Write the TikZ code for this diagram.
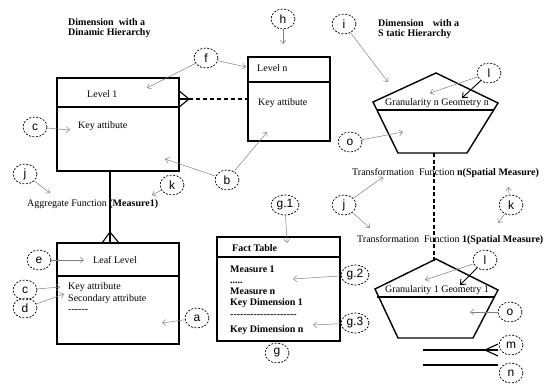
\documentclass[tikz,border=0pt]{standalone}
\usepackage{fontspec}
\setmainfont{Liberation Serif}
\newfontfamily\lblfont{Liberation Sans}
\usetikzlibrary{arrows.meta,shapes.geometric}
\begin{document}
\begin{tikzpicture}[x=1pt,y=-1pt,
  lbl/.style={draw, ellipse, dash pattern=on 2pt off 1.5pt, line width=0.7pt, minimum width=24pt, minimum height=20pt, inner sep=0pt, font=\lblfont\fontsize{12}{12}\selectfont},
  wlbl/.style={lbl, minimum width=28pt},
  boxn/.style={draw, line width=1.4pt, rectangle, inner sep=0pt},
  garrow/.style={draw=black!50, line width=0.5pt, -{Straight Barb[length=3.5pt,width=6pt]}},
  barrow/.style={draw=black, line width=0.9pt, -{Straight Barb[length=4pt,width=7pt]}},
  txt/.style={anchor=west, inner sep=0pt, font=\fontsize{10}{12}\selectfont},
  btxt/.style={txt, font=\fontsize{10}{12}\selectfont\bfseries},
  shape line/.style={line width=1.4pt},
]
\useasboundingbox (0,0) rectangle (554,383);

% ---------- titles
\node[btxt] (title1a) at (68,22) {Dimension\ \ with a};
\node[btxt] (title1b) at (68,33) {Dinamic Hierarchy};
\node[btxt] (title2a) at (378,23) {Dimension\hspace{9pt}with a};
\node[btxt] (title2b) at (378,34) {S tatic Hierarchy};

% ---------- Level 1
\node[boxn, minimum width=122pt, minimum height=93pt] (lvl1) at (118,124.5) {};
\draw[shape line] (57,107) -- (179,107);
\node[txt] (lvl1t) at (87,94) {Level 1};
\node[txt] (lvl1k) at (78,126) {Key attibute};

% ---------- Level n
\node[boxn, minimum width=82pt, minimum height=84pt] (lvln) at (289,99) {};
\draw[shape line] (248,82) -- (330,82);
\node[txt] (lvlnt) at (257,68) {Level n};
\node[txt] (lvlnk) at (258,103) {Key attibute};

% connector level 1 -- level n
\coordinate (cf1) at (189,99);
\draw[line width=1.1pt] (178,90) -- (cf1) -- (178,108);
\draw[line width=1.1pt] (178,99) -- (cf1);
\draw[line width=1.4pt, dash pattern=on 4pt off 3pt] (cf1) -- (lvln.west |- cf1);

% ---------- Leaf level
\node[boxn, minimum width=122pt, minimum height=101pt] (leaf) at (118,293.5) {};
\draw[shape line] (57,276) -- (179,276);
\node[txt] (leaft) at (93,260) {Leaf Level};
\node[txt] (leafk) at (68,287) {Key attribute};
\node[txt] (leafs) at (68,299) {Secondary attribute};
\node[txt] (leafd) at (68,311) {-{}-{}-{}-{}-{}-};

% connector level 1 -- leaf
\coordinate (v1t) at (110,171);
\coordinate (v1b) at (110,243);
\node[txt] (aggr) at (27,204) {Aggregate Function \textbf{(Measure1)}};
\draw[line width=1.2pt] (v1t) -- (v1b);
\draw[line width=1.1pt] (102,243) -- (110,232) -- (119,243);

% ---------- Fact table
\node[boxn, minimum width=123pt, minimum height=104pt] (fact) at (278.5,289) {};
\draw[shape line] (217,257) -- (340,257);
\node[btxt] (factt) at (232,248) {Fact Table};
\node[anchor=north west, align=left, inner sep=0pt, font=\fontsize{10}{11}\selectfont\bfseries] (fbody) at (230,266) {Measure 1\\.....\\Measure n\\Key Dimension 1};
\node[btxt] (fdash) at (230,316) {-{}-{}-{}-{}-{}-{}-{}-{}-{}-{}-{}-{}-{}-{}-{}-{}-{}-{}-{}-};
\node[btxt] (fkn) at (230,330) {Key Dimension n};

% ---------- pentagon n
\coordinate (pnA) at (436,73);
\coordinate (pnL) at (373,102);
\coordinate (pnR) at (498,103);
\coordinate (pnBL) at (398,153);
\coordinate (pnBR) at (467,153);
\draw[shape line] (pnA) -- (pnR) -- (pnBR) -- (pnBL) -- (pnL) -- cycle;
\node[inner sep=0pt, font=\fontsize{10}{12}\selectfont] (gn) at (437,104.5) {\underline{Granularity n Geometry n}};
\draw[shape line] (377,110) -- (494,110);

% ---------- pentagon 1
\coordinate (p1A) at (436,259);
\coordinate (p1L) at (375,289);
\coordinate (p1R) at (498,290);
\coordinate (p1BL) at (398,338);
\coordinate (p1BR) at (473,338);
\draw[shape line] (p1A) -- (p1R) -- (p1BR) -- (p1BL) -- (p1L) -- cycle;
\node[inner sep=0pt, font=\fontsize{10}{12}\selectfont] (g1t) at (437,291) {\underline{Granularity 1 Geometry 1}};
\draw[shape line] (377,297) -- (495,297);

% transformation texts and connector
\node[txt] (trn) at (352,173) {Transformation\ \ Function \textbf{n(Spatial Measure)}};
\node[txt] (tr1) at (357,240) {Transformation\ \ Function \textbf{1(Spatial Measure)}};
\coordinate (pnBot) at (434,153);
\coordinate (p1Top) at (434,262);
\draw[line width=1.1pt, dash pattern=on 4pt off 2.5pt] (pnBot) -- (p1Top);

% ---------- m and n legend lines
\coordinate (mL) at (423,350);
\coordinate (mR) at (498,350);
\coordinate (nL) at (423,365);
\coordinate (nR) at (498,365);
\draw[line width=1.2pt] (mL) -- (mR);
\draw[line width=1.1pt] (498,344) -- (485,350) -- (498,356);
\draw[line width=1.2pt] (nL) -- (nR);

% ---------- labels
\node[lbl] (h) at (283,19) {h};
\node[lbl] (f) at (206,58) {f};
\node[lbl] (c1) at (35,127) {c};
\node[lbl] (j1) at (25,174) {j};
\node[lbl] (k1) at (172,185) {k};
\node[lbl] (b) at (227,180) {b};
\node[lbl] (e) at (39,260) {e};
\node[lbl] (c2) at (25,290) {c};
\node[lbl] (d) at (25,308) {d};
\node[lbl] (a) at (197,318) {a};
\node[wlbl] (g1) at (285,205) {g.1};
\node[wlbl] (g2) at (355,275) {g.2};
\node[wlbl] (g3) at (355,323) {g.3};
\node[lbl] (g) at (277,353) {g};
\node[lbl] (i) at (344,24) {i};
\node[lbl] (l1) at (489,73) {l};
\node[lbl] (o1) at (350,142) {o};
\node[lbl] (j2) at (344,205) {j};
\node[lbl] (k2) at (511,205) {k};
\node[lbl] (l2) at (485,260) {l};
\node[lbl] (o2) at (510,312) {o};
\node[lbl] (m) at (511,345) {m};
\node[lbl] (n) at (511,373) {n};

% ---------- arrow targets
\coordinate (hA) at (283,44);
\coordinate (fA1) at (246,67);
\coordinate (fA2) at (147,88);
\coordinate (c1A) at (70,130);
\coordinate (j1A) at (50,193);
\coordinate (k1A) at (152,195);
\coordinate (bA1) at (267,132);
\coordinate (bA2) at (165,159);
\coordinate (eA) at (84,260);
\coordinate (c2A) at (60,287);
\coordinate (dA) at (64,294);
\coordinate (aA) at (162,323);
\coordinate (g1A) at (287,243);
\coordinate (g2A) at (293,279);
\coordinate (g3A) at (313,325);
\coordinate (iA) at (388,82);
\coordinate (l1A1) at (430,93);
\coordinate (l1A2) at (462,98);
\coordinate (o1A) at (403,132);
\coordinate (j2A1) at (383,177);
\coordinate (j2A2) at (370,228);
\coordinate (k2A1) at (508,187);
\coordinate (k2A2) at (498,223);
\coordinate (l2A1) at (425,280);
\coordinate (l2A2) at (460,285);
\coordinate (o2A) at (470,312);

\draw[garrow] (h) -- (hA);
\draw[garrow] (f) -- (fA1);
\draw[garrow] (f) -- (fA2);
\draw[garrow] (c1) -- (c1A);
\draw[garrow] (j1) -- (j1A);
\draw[garrow] (k1) -- (k1A);
\draw[garrow] (b) -- (bA1);
\draw[garrow] (b) -- (bA2);
\draw[garrow] (e) -- (eA);
\draw[garrow] (c2) -- (c2A);
\draw[garrow] (d) -- (dA);
\draw[garrow] (a) -- (aA);
\draw[garrow] (g1) -- (g1A);
\draw[garrow] (g2) -- (g2A);
\draw[garrow] (g3) -- (g3A);
\draw[garrow] (i) -- (iA);
\draw[garrow] (l1) -- (l1A1);
\draw[barrow] (l1) -- (l1A2);
\draw[garrow] (o1) -- (o1A);
\draw[garrow] (j2) -- (j2A1);
\draw[garrow] (j2) -- (j2A2);
\draw[garrow] (k2) -- (k2A1);
\draw[garrow] (k2) -- (k2A2);
\draw[garrow] (l2) -- (l2A1);
\draw[barrow] (l2) -- (l2A2);
\draw[garrow] (o2) -- (o2A);
\end{tikzpicture}
\end{document}
